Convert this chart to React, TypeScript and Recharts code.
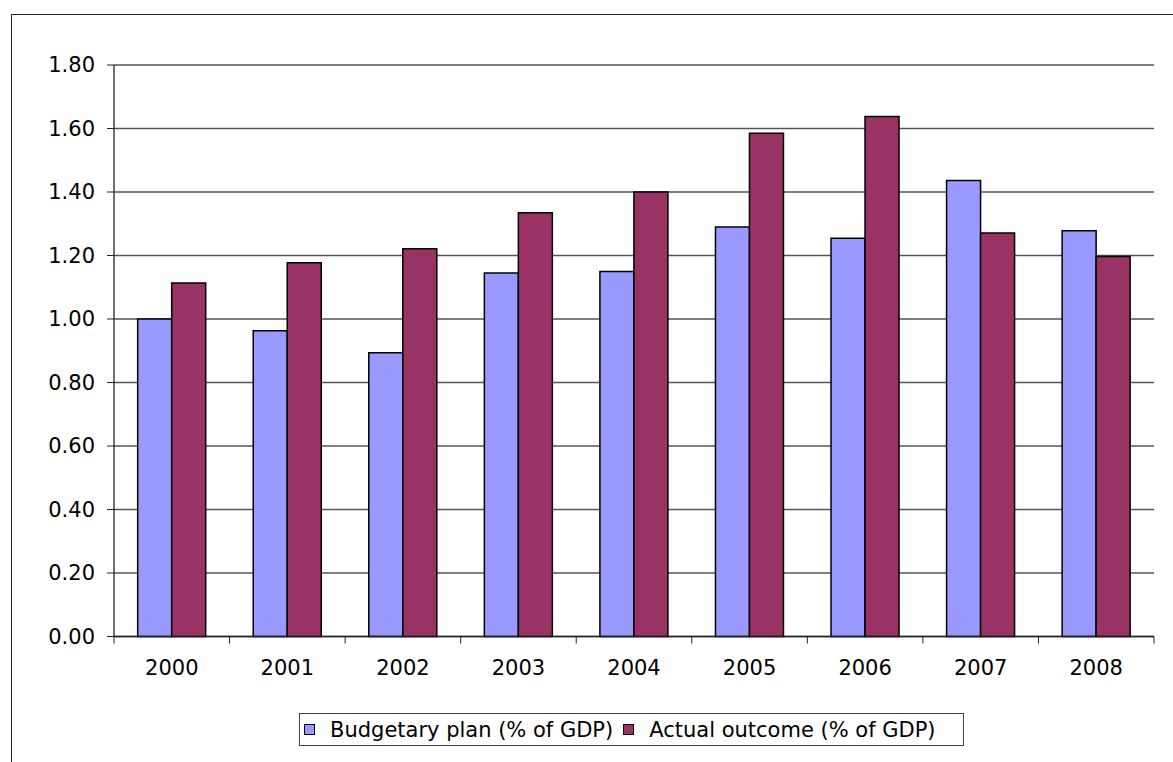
import React from 'react';
import { BarChart, Bar, XAxis, YAxis, CartesianGrid, Legend } from 'recharts';

const years = ['2000', '2001', '2002', '2003', '2004', '2005', '2006', '2007', '2008'];
const budgetaryPlan = [1.0, 0.963, 0.894, 1.145, 1.15, 1.29, 1.254, 1.436, 1.278];
const actualOutcome = [1.113, 1.177, 1.221, 1.335, 1.4, 1.585, 1.638, 1.271, 1.197];
const yTicks = [0, 0.2, 0.4, 0.6, 0.8, 1.0, 1.2, 1.4, 1.6, 1.8];

const seriesNames = ['Budgetary plan (% of GDP)', 'Actual outcome (% of GDP)'];
const colors = ['#9999FF', '#993366'];

const data = years.map((y, i) => ({
  year: y,
  plan: budgetaryPlan[i],
  actual: actualOutcome[i],
}));

const FONT = '"DejaVu Sans", Arial, sans-serif';

const XTick = (props: any) => {
  const { x, y, payload, width, visibleTicksCount, index } = props;
  const band = width / visibleTicksCount;
  const left = x - band / 2;
  const right = x + band / 2;
  return (
    <g>
      <line x1={left} x2={left} y1={y} y2={y + 7} stroke="#222" strokeWidth={1} />
      {index === visibleTicksCount - 1 && (
        <line x1={right} x2={right} y1={y} y2={y + 7} stroke="#222" strokeWidth={1} />
      )}
      <text x={x} y={y + 31} dy="0.355em" textAnchor="middle" fill="#000" fontSize={21} fontFamily={FONT}>
        {payload.value}
      </text>
    </g>
  );
};

const LegendContent = (props: any) => {
  const payload = [...(props.payload || [])].sort(
    (a: any, b: any) => seriesNames.indexOf(a.value) - seriesNames.indexOf(b.value)
  );
  return (
    <div
      style={{
        display: 'flex',
        alignItems: 'center',
        height: '100%',
        boxSizing: 'border-box',
        paddingLeft: 4,
        fontFamily: FONT,
        fontSize: 21,
        color: '#000',
      }}
    >
      {payload.map((p: any, i: number) => (
        <div key={i} style={{ display: 'flex', alignItems: 'center', marginRight: 10 }}>
          <div
            style={{
              width: 9,
              height: 9,
              background: p.color,
              border: '1.5px solid #000',
              marginRight: 15,
            }}
          />
          <span style={{ whiteSpace: 'nowrap' }}>{p.value}</span>
        </div>
      ))}
    </div>
  );
};

export default function App() {
  return (
    <div
      style={{
        position: 'absolute',
        left: 0,
        top: 0,
        width: 1173,
        height: 762,
        overflow: 'hidden',
        background: '#fff',
      }}
    >
      <div
        style={{
          position: 'absolute',
          left: 11,
          top: 14,
          width: 1300,
          height: 900,
          border: '1.5px solid #222',
        }}
      />
      <div style={{ position: 'absolute', left: 0, top: 0 }}>
        <BarChart
          width={1173}
          height={762}
          data={data}
          margin={{ top: 65, right: 19, left: 0, bottom: 85.5 }}
          barGap={0}
          barCategoryGap="20.5%"
        >
          <CartesianGrid
            xAxisId="main"
            yAxisId="main"
            horizontal={true}
            vertical={false}
            stroke="#555"
            strokeWidth={1.3}
          />
          <XAxis
            dataKey="year"
            xAxisId="main"
            height={40}
            tickLine={false}
            tickSize={0}
            tickMargin={0}
            axisLine={{ stroke: '#222', strokeWidth: 1.3 }}
            tick={<XTick />}
            interval={0}
          />
          <XAxis
            dataKey="year"
            xAxisId="top"
            orientation="top"
            height={0}
            tick={false}
            tickLine={false}
            axisLine={{ stroke: '#888', strokeWidth: 1.5 }}
          />
          <YAxis
            yAxisId="main"
            width={114}
            domain={[0, 1.8]}
            ticks={yTicks}
            interval={0}
            tickFormatter={(v: number) => v.toFixed(2)}
            tickSize={7}
            tickMargin={12}
            tickLine={{ stroke: '#222' }}
            axisLine={{ stroke: '#222', strokeWidth: 1.3 }}
            tick={{ fill: '#000', fontSize: 21, fontFamily: FONT }}
          />
          <YAxis
            yAxisId="right"
            orientation="right"
            width={0}
            domain={[0, 1.8]}
            tick={false}
            tickLine={false}
            axisLine={{ stroke: '#888', strokeWidth: 1.5 }}
          />
          <Legend
            verticalAlign="middle"
            layout="horizontal"
            itemSorter={null as any}
            content={<LegendContent />}
            wrapperStyle={{
              position: 'absolute',
              left: 299,
              top: 713,
              width: 665,
              height: 33,
              boxSizing: 'border-box',
              border: '1px solid #444',
              background: '#fff',
            }}
          />
          <Bar
            dataKey="plan"
            name={seriesNames[0]}
            xAxisId="main"
            yAxisId="main"
            fill={colors[0]}
            stroke="#000"
            strokeWidth={1.5}
            isAnimationActive={false}
          />
          <Bar
            dataKey="actual"
            name={seriesNames[1]}
            xAxisId="main"
            yAxisId="main"
            fill={colors[1]}
            stroke="#000"
            strokeWidth={1.5}
            isAnimationActive={false}
          />
        </BarChart>
      </div>
    </div>
  );
}
